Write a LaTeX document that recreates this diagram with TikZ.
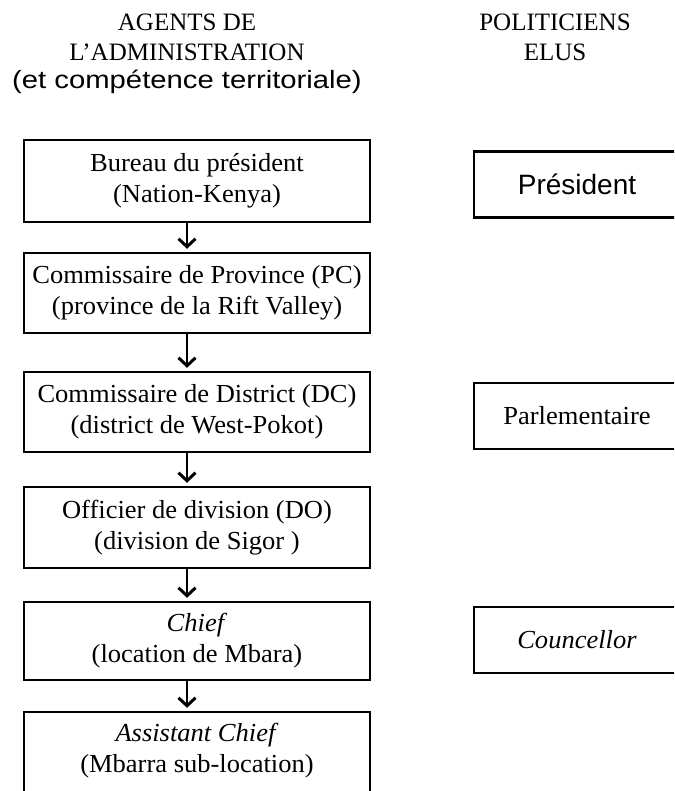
\documentclass[tikz,border=0pt]{standalone}
\usepackage{fontspec}
\setmainfont{Liberation Serif}
\newfontfamily\boxfont{Liberation Serif}[FakeStretch=1.02]
\newfontfamily\presfont{Liberation Sans}
\newfontfamily\parenfont{Liberation Sans}[FakeStretch=1.17]
\usetikzlibrary{arrows.meta}
\tikzset{
  adminbox/.style={draw=black, line width=2.4pt, minimum width=346pt, inner sep=0pt, align=center,
    font=\boxfont\fontsize{26}{31}\selectfont},
  elubox/.style={draw=black, line width=2.4pt, minimum width=206pt, minimum height=66pt, inner sep=0pt, align=center,
    font=\boxfont\fontsize{26}{31}\selectfont},
  head/.style={inner sep=0pt, align=center, font=\fontsize{25}{30}\selectfont},
  down/.style={line width=2.6pt, -{Straight Barb[length=8pt,width=17pt,line width=3pt]}}
}
\begin{document}
\begin{tikzpicture}[x=1pt,y=-1pt]
\useasboundingbox (0,0) rectangle (674,791);
\clip (0,0) rectangle (674,791);
% headers
\node[head] (h1) at (187,22) {AGENTS DE};
\node[head] (h2) at (187,52) {L'ADMINISTRATION};
\node[head, font=\parenfont\fontsize{25}{30}\selectfont] (h3) at (187,82) {(et compétence territoriale)};
\node[head] (h4) at (555,22) {POLITICIENS};
\node[head] (h5) at (555,52) {ELUS};
% admin boxes
\node[adminbox, minimum height=82pt] (b1) at (197,181) {Bureau du président\\(Nation-Kenya)};
\node[adminbox, minimum height=80pt] (b2) at (197,293) {Commissaire de Province (PC)\\(province de la Rift Valley)};
\node[adminbox, minimum height=80pt] (b3) at (197,412) {Commissaire de District (DC)\\(district de West-Pokot)};
\node[adminbox, minimum height=81pt] (b4) at (197,527.5) {Officier de division (DO)\\(division de Sigor )};
\node[adminbox, minimum height=78pt] (b5) at (197,641) {\textit{Chief}\\(location de Mbara)};
\node[adminbox, minimum height=82pt, text depth=11pt] (b6) at (197,753) {\textit{Assistant Chief}\\(Mbarra sub-location)};
% arrows
\foreach \a/\b in {b1/b2,b2/b3,b3/b4,b4/b5,b5/b6}
  \draw[down] ([xshift=-10pt]\a.south) -- ([xshift=-10pt,yshift=3pt]\b.north);
% elected boxes
\node[elubox, font=\presfont\fontsize{28}{32}\selectfont] (p1) at (577,184.5) {Président};
\node[elubox] (p2) at (577,416) {Parlementaire};
\node[elubox] (p3) at (577,640) {\textit{Councellor}};
\end{tikzpicture}
\end{document}
